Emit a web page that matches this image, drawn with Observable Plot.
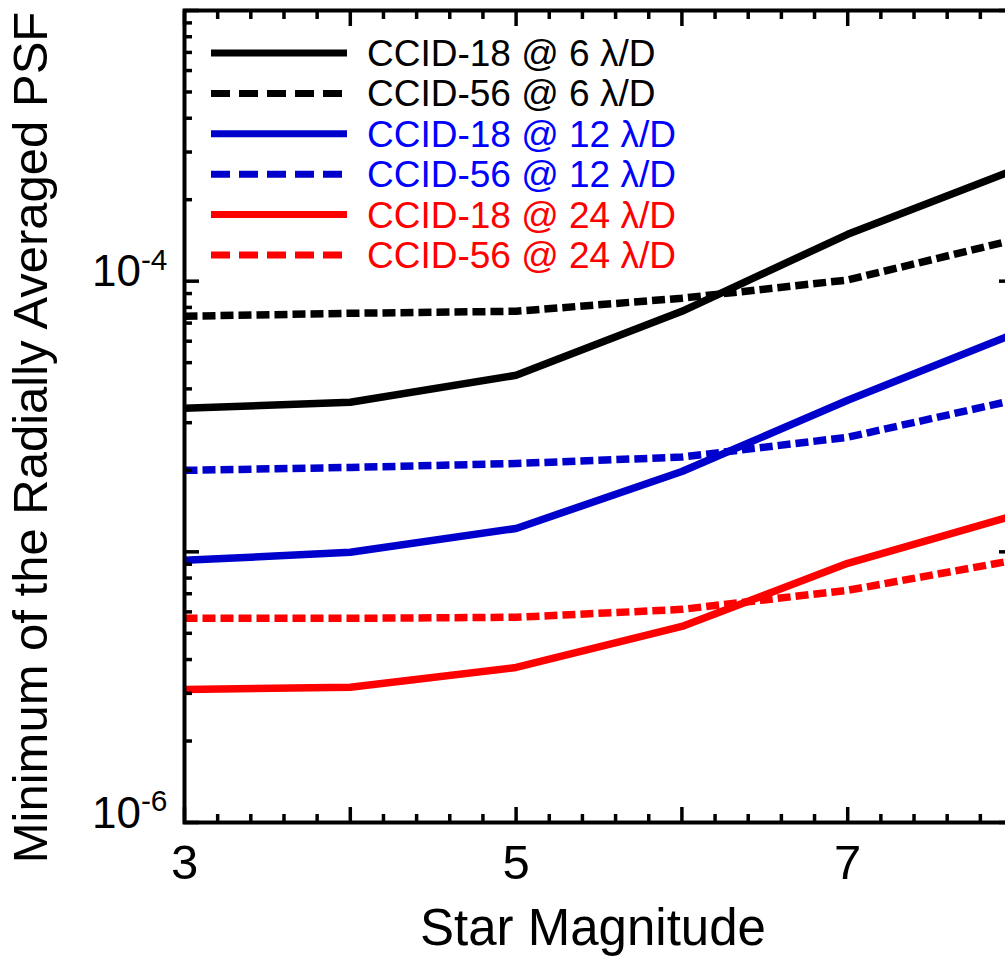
<!DOCTYPE html>
<html><head><meta charset="utf-8">
<script src="https://cdn.jsdelivr.net/npm/d3@7"></script>
<script src="https://cdn.jsdelivr.net/npm/@observablehq/plot@0.6"></script>
<style>
html,body{margin:0;padding:0;background:#fff;overflow:hidden;}
#wrap{position:relative;width:1005px;height:971px;overflow:hidden;}
#wrap svg{max-width:none !important;}
</style></head><body><div id="wrap"></div>
<script>
// ---- data ----
const magnitudes = [3, 4, 5, 6, 7, 8];
const ccid18_6  = [3.39e-5, 3.57e-5, 4.49e-5, 7.74e-5, 1.49e-4, 2.57e-4];
const ccid56_6  = [7.42e-5, 7.61e-5, 7.74e-5, 8.65e-5, 1.01e-4, 1.42e-4];
const ccid18_12 = [9.30e-6, 9.96e-6, 1.22e-5, 1.98e-5, 3.63e-5, 6.37e-5];
const ccid56_12 = [2.00e-5, 2.05e-5, 2.12e-5, 2.24e-5, 2.65e-5, 3.63e-5];
const ccid18_24 = [3.10e-6, 3.16e-6, 3.74e-6, 5.30e-6, 9.07e-6, 1.36e-5];
const ccid56_24 = [5.68e-6, 5.68e-6, 5.73e-6, 6.13e-6, 7.21e-6, 9.30e-6];
const seriesLabels = ["CCID-18 @ 6 λ/D", "CCID-56 @ 6 λ/D", "CCID-18 @ 12 λ/D", "CCID-56 @ 12 λ/D", "CCID-18 @ 24 λ/D", "CCID-56 @ 24 λ/D"];
const seriesValues = [ccid18_6, ccid56_6, ccid18_12, ccid56_12, ccid18_24, ccid56_24];
const seriesDashed = [false, true, false, true, false, true];
const lineColors = ["#000000", "#000000", "#0000cc", "#0000cc", "#ff0000", "#ff0000"];
const textColors = ["#000000", "#000000", "#0000ff", "#0000ff", "#ff0000", "#ff0000"];
const xTickLabels = [3, 5, 7];
const xMajorTicks = [3, 4, 5, 6, 7, 8];
const yTickLabels = [1e-6, 1e-4];
const yDecades = [1e-6, 1e-5, 1e-4, 1e-3];
const xTitle = "Star Magnitude";
const yTitle = "Minimum of the Radially Averaged PSF";

// ---- derived ----
const rows = [];
seriesValues.forEach((vals, i) => vals.forEach((v, j) => rows.push({i, x: magnitudes[j], y: v})));
const xMinorTicks = d3.range(30, 81, 2).map(d => d / 10).filter(d => !Number.isInteger(d));
const yMinorTicks = [];
yDecades.slice(0, -1).forEach(d => { for (let k = 2; k <= 9; k++) yMinorTicks.push(k * d); });

const order = [1, 3, 5, 0, 2, 4];
const lineMarks = order.map(i => Plot.line(rows.filter(r => r.i === i), {
  x: "x", y: "y", stroke: lineColors[i], strokeWidth: 7.5,
  strokeDasharray: seriesDashed[i] ? "13,5" : null, strokeLinecap: "butt"
}));

const tickStyle = {strokeWidth: 3.5, label: null, tickFormat: () => ""};
const chart = Plot.plot({
  width: 1020, height: 971,
  marginTop: 10, marginBottom: 149, marginLeft: 184, marginRight: 7,
  x: {domain: [3, 8]},
  y: {type: "log", domain: [1e-6, 1e-3]},
  style: {fontFamily: "'Liberation Sans', Arial, sans-serif", background: "white", maxWidth: "none", overflow: "visible", color: "black"},
  marks: [
    ...lineMarks,
    Plot.axisX(xMajorTicks, {anchor: "bottom", tickSize: -15, ...tickStyle}),
    Plot.axisX(xMinorTicks, {anchor: "bottom", tickSize: -8, ...tickStyle}),
    Plot.axisX(xMajorTicks, {anchor: "top", tickSize: -15, ...tickStyle}),
    Plot.axisX(xMinorTicks, {anchor: "top", tickSize: -8, ...tickStyle}),
    Plot.axisY(yDecades, {anchor: "left", tickSize: -15, ...tickStyle}),
    Plot.axisY(yMinorTicks, {anchor: "left", tickSize: -8, ...tickStyle}),
    Plot.axisY(yDecades, {anchor: "right", tickSize: -15, ...tickStyle}),
    Plot.axisY(yMinorTicks, {anchor: "right", tickSize: -8, ...tickStyle}),
    Plot.axisX(xTickLabels, {anchor: "bottom", tickSize: 0, tickPadding: 22, fontSize: 49, label: null, tickFormat: d => String(d)}),
    Plot.axisY(yTickLabels, {anchor: "left", tickSize: 0, tickPadding: 17, dy: -9, fontSize: 44, label: null, tickFormat: d => "10^" + Math.round(Math.log10(d))}),
    Plot.frame({stroke: "black", strokeWidth: 4}),
    Plot.text([yTitle], {frameAnchor: "left", textAnchor: "middle", lineAnchor: "middle", dx: -153, dy: 21, rotate: -90, fontSize: 49}),
    Plot.text([xTitle], {frameAnchor: "bottom", textAnchor: "middle", lineAnchor: "middle", dx: -6, dy: 106, fontSize: 51})
  ]
});
document.getElementById("wrap").appendChild(chart);

// superscripts on y tick labels
d3.select(chart).selectAll("text").each(function() {
  const t = d3.select(this);
  const m = /^10\^(-?\d+)$/.exec(t.text());
  if (m) {
    t.text("10");
    t.append("tspan").attr("dy", "-0.55em").attr("font-size", "0.68em").text(m[1]);
  }
});

// legend
const leg = d3.select(chart).append("g").attr("class", "legend").attr("text-anchor", "start");
seriesLabels.forEach((lab, i) => {
  const yy = 53 + 40.4 * i;
  leg.append("line").attr("x1", 211).attr("x2", 347).attr("y1", yy).attr("y2", yy)
    .attr("stroke", lineColors[i]).attr("stroke-width", 7)
    .attr("stroke-dasharray", seriesDashed[i] ? "19,9" : null);
  leg.append("text").attr("x", 367).attr("y", yy + 13).attr("fill", textColors[i])
    .attr("text-anchor", "start").attr("font-size", 37).text(lab);
});
</script></body></html>
